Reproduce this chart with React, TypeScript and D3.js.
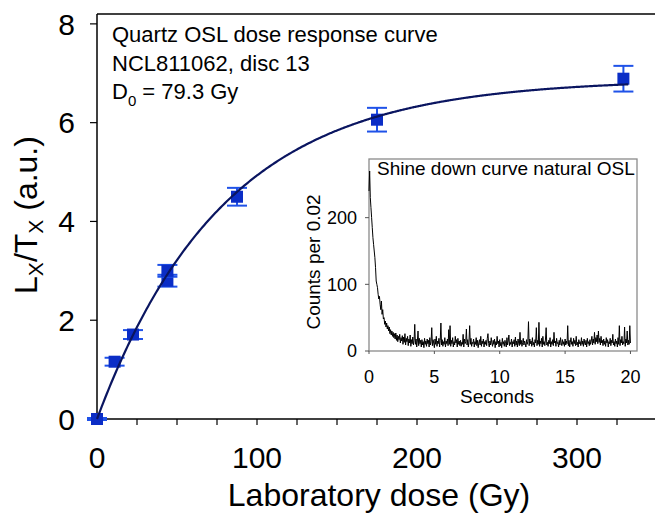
import React from 'react';
import * as d3 from 'd3';

// dose response points (Gy, Lx/Tx)
const doses = [0, 11, 22.5, 44, 44, 87.5, 175, 329];
const ratios = [0, 1.16, 1.71, 2.8, 3.0, 4.5, 6.06, 6.89];
const ratioErrors = [0.02, 0.08, 0.09, 0.12, 0.12, 0.18, 0.24, 0.26];

// fitted saturating exponential
const D0 = 79.3;
const fitMax = 6.88;

const xTicks = [0, 100, 200, 300];
const xMinorTicks = [25, 50, 75, 125, 150, 175, 225, 250, 275, 325];
const yTicks = [0, 2, 4, 6, 8];

// inset: natural OSL shine down, counts per channel, 0.05 s apart
const shineStep = 0.05;
const shineCounts = [
  240, 270, 230, 215, 200, 185, 170, 160, 150, 140,
  125, 105, 100, 95, 85, 78, 82, 70, 62, 75,
  55, 62, 48, 50, 40, 45, 36, 42, 33, 38,
  30, 36, 26, 32, 24, 30, 22, 28, 20, 26,
  18, 27, 16, 24, 14, 22, 17, 25, 12, 20,
  15, 23, 10, 21, 13, 26, 9, 19, 14, 22,
  8, 18, 12, 24, 7, 17, 11, 21, 9, 16,
  40, 10, 18, 6, 15, 30, 8, 19, 11, 16,
  6, 17, 9, 14, 5, 19, 10, 15, 7, 18,
  11, 16, 6, 20, 9, 14, 35, 8, 17, 12,
  5, 18, 10, 22, 7, 15, 11, 19, 6, 16,
  42, 9, 17, 7, 14, 10, 20, 6, 15, 11,
  18, 8, 32, 10, 38, 7, 16, 11, 20, 6,
  14, 9, 22, 12, 17, 6, 19, 10, 15, 8,
  16, 7, 13, 10, 25, 6, 18, 11, 14, 33,
  9, 17, 6, 15, 38, 10, 19, 7, 13, 11,
  18, 6, 14, 10, 20, 8, 16, 5, 12, 17,
  9, 22, 7, 15, 11, 18, 6, 14, 10, 16,
  8, 19, 26, 11, 6, 15, 9, 20, 12, 7,
  16, 10, 18, 5, 14, 9, 22, 11, 15, 6,
  17, 8, 13, 5, 19, 10, 14, 7, 16, 11,
  6, 20, 9, 15, 24, 8, 13, 10, 18, 6,
  14, 11, 17, 7, 21, 9, 15, 6, 18, 12,
  8, 28, 10, 16, 7, 13, 19, 9, 15, 11,
  6, 17, 10, 14, 44, 8, 18, 11, 15, 7,
  20, 9, 13, 6, 17, 12, 35, 8, 16, 10,
  43, 7, 15, 11, 19, 6, 22, 10, 14, 8,
  18, 35, 9, 13, 7, 16, 11, 20, 6, 14,
  10, 17, 8, 28, 12, 15, 7, 19, 11, 13,
  6, 16, 9, 20, 12, 8, 17, 10, 14, 7,
  18, 9, 15, 11, 38, 8, 16, 6, 13, 20,
  10, 14, 7, 19, 11, 16, 8, 22, 9, 13,
  6, 17, 11, 14, 8, 20, 10, 15, 7, 18,
  12, 9, 16, 6, 19, 11, 14, 8, 17, 10,
  15, 22, 9, 18, 12, 28, 10, 20, 14, 24,
  11, 30, 13, 19, 9, 22, 12, 16, 8, 18,
  10, 15, 7, 20, 12, 17, 6, 14, 11, 19,
  8, 16, 12, 25, 9, 14, 7, 18, 11, 15,
  6, 20, 10, 38, 8, 17, 12, 22, 9, 14,
  11, 36, 7, 18, 12, 30, 9, 16, 10, 38,
  12,
];
const insetXTicks = [0, 5, 10, 15, 20];
const insetYTicks = [0, 100, 200];

const W = 655, H = 517;
const font = 'Arial, "Liberation Sans", sans-serif';
const blue = '#0b2dc6';
const barBlue = '#1f52e8';

export default function App() {
  const x = d3.scaleLinear().domain([0, 350]).range([97, 657]);
  const y = d3.scaleLinear().domain([0, 8.2]).range([419, 14]);

  const fitLine = d3.line<number>()
    .x((d) => x(d))
    .y((d) => y(fitMax * (1 - Math.exp(-d / D0))))
    .curve(d3.curveMonotoneX);
  const fitPts = d3.range(0, 333, 1);

  const xs = d3.scaleLinear().domain([0, 20.5]).range([369, 637]);
  const ys = d3.scaleLinear().domain([0, 288]).range([351, 159]);
  const shineLine = d3.line<number>()
    .x((_, i) => xs(i * shineStep))
    .y((d) => ys(d));

  const sq = 12;
  const cap = 10;

  return (
    <svg width={W} height={H} style={{ position: 'absolute', left: 0, top: 0, background: '#fff' }}
      fontFamily={font}>
      {/* main frame */}
      <line x1={x(0)} x2={W} y1={y(8.2)} y2={y(8.2)} stroke="#000" strokeWidth={1.5} />
      <line x1={x(0)} x2={x(0)} y1={y(8.2)} y2={y(0)} stroke="#000" strokeWidth={1.5} />
      <line x1={x(0)} x2={W} y1={y(0)} y2={y(0)} stroke="#000" strokeWidth={1.5} />

      {yTicks.map((t) => (
        <g key={'y' + t}>
          <line x1={x(0) - 7} x2={x(0)} y1={y(t)} y2={y(t)} stroke="#000" strokeWidth={1.2} />
          <text x={75} y={y(t)} dy="0.36em" textAnchor="end" fontSize={30}>{t}</text>
        </g>
      ))}
      {xTicks.concat(xMinorTicks).map((t) => (
        <line key={'xt' + t} x1={x(t)} x2={x(t)} y1={y(0)} y2={y(0) + 6} stroke="#000" strokeWidth={1.2} />
      ))}
      {xTicks.map((t) => (
        <text key={'xl' + t} x={x(t)} y={468} textAnchor="middle" fontSize={30}>{t}</text>
      ))}

      <text x={379} y={506} textAnchor="middle" fontSize={32}>Laboratory dose (Gy)</text>
      <text transform="translate(37,215) rotate(-90)" textAnchor="middle" fontSize={32}>
        L<tspan fontSize={21} dy={6}>X</tspan><tspan dy={-6}>/T</tspan>
        <tspan fontSize={21} dy={6}>X</tspan><tspan dy={-6}> (a.u.)</tspan>
      </text>

      <text x={112} y={42} fontSize={22}>Quartz OSL dose response curve</text>
      <text x={112} y={70.5} fontSize={22}>NCL811062, disc 13</text>
      <text x={112} y={99} fontSize={22}>
        D<tspan fontSize={15} dy={7}>0</tspan><tspan dy={-7}> = 79.3 Gy</tspan>
      </text>

      {/* error bars and points */}
      {doses.map((d, i) => (
        <g key={'p' + i}>
          <line x1={x(d)} x2={x(d)} y1={y(ratios[i] - ratioErrors[i])} y2={y(ratios[i] + ratioErrors[i])}
            stroke={barBlue} strokeWidth={2} />
          <line x1={x(d) - cap} x2={x(d) + cap} y1={y(ratios[i] - ratioErrors[i])} y2={y(ratios[i] - ratioErrors[i])}
            stroke={barBlue} strokeWidth={2} />
          <line x1={x(d) - cap} x2={x(d) + cap} y1={y(ratios[i] + ratioErrors[i])} y2={y(ratios[i] + ratioErrors[i])}
            stroke={barBlue} strokeWidth={2} />
          <rect x={x(d) - sq / 2} y={y(ratios[i]) - sq / 2} width={sq} height={sq} fill={blue} />
        </g>
      ))}
      <path d={fitLine(fitPts) || ''} fill="none" stroke="#0a1560" strokeWidth={2.2} />

      {/* inset */}
      <rect x={xs(0)} y={ys(288)} width={xs(20.5) - xs(0)} height={ys(0) - ys(288)}
        fill="#fff" stroke="#8a8a8a" strokeWidth={1.3} />
      {insetYTicks.map((t) => (
        <g key={'iy' + t}>
          <line x1={xs(0) - 4} x2={xs(0)} y1={ys(t)} y2={ys(t)} stroke="#555" strokeWidth={1} />
          <text x={357} y={ys(t)} dy="0.36em" textAnchor="end" fontSize={18}>{t}</text>
        </g>
      ))}
      {insetXTicks.map((t) => (
        <g key={'ix' + t}>
          <line x1={xs(t)} x2={xs(t)} y1={ys(0)} y2={ys(0) + 3} stroke="#555" strokeWidth={1} />
          <text x={xs(t)} y={383} textAnchor="middle" fontSize={18}>{t}</text>
        </g>
      ))}
      <path d={shineLine(shineCounts) || ''} fill="none" stroke="#000" strokeWidth={1} />
      <text x={377} y={175} fontSize={19}>Shine down curve natural OSL</text>
      <text x={497} y={403} textAnchor="middle" fontSize={19}>Seconds</text>
      <text transform="translate(320,262) rotate(-90)" textAnchor="middle" fontSize={19}>Counts per 0.02</text>
    </svg>
  );
}
